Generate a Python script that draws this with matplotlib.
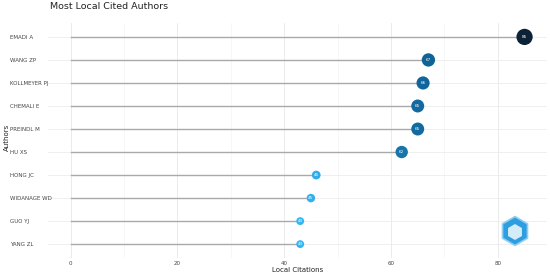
import matplotlib
matplotlib.use("Agg")
import matplotlib.pyplot as plt
from matplotlib.colors import LinearSegmentedColormap, Normalize
from matplotlib.patches import RegularPolygon

# data
authors = ["EMADI A", "WANG ZP", "KOLLMEYER PJ", "CHEMALI E", "PREINDL M",
           "HU XS", "HONG JC", "WIDANAGE WD", "GUO YJ", "YANG ZL"]
citations = [85, 67, 66, 65, 65, 62, 46, 45, 43, 43]
xticks = [0, 20, 40, 60, 80]

cmap = LinearSegmentedColormap.from_list(
    "cites", [(0, "#34b6f6"), (0.6, "#0d5f94"), (1, "#0c2237")])
norm = Normalize(min(citations), max(citations))

fig = plt.figure(figsize=(5.5, 2.75), dpi=100)
ax = fig.add_axes([0.087, 0.062, 0.908, 0.854])

ypos = list(range(len(authors)))[::-1]

# grid
for v in range(10, 90, 20):
    ax.axvline(v, color="#f4f4f4", lw=0.5, zorder=0)
for v in xticks:
    ax.axvline(v, color="#e8e8e8", lw=0.6, zorder=0)
for y in ypos:
    ax.axhline(y, color="#ececec", lw=0.6, zorder=0)

# lollipops
for y, c in zip(ypos, citations):
    ax.plot([0, c], [y, y], color="#a9a9a9", lw=1.0, zorder=1)
sizes = [32 + (c - 43) / 42 * 105 for c in citations]
ax.scatter(citations, ypos, s=sizes, c=citations, cmap=cmap, norm=norm,
           zorder=2, edgecolors="none")
for y, c in zip(ypos, citations):
    ax.text(c, y, str(c), color="white", fontsize=3, ha="center",
            va="center", zorder=3)

ax.set_xlim(-4.25, 89.25)
ax.set_ylim(-0.6, len(authors) - 0.4)
ax.set_xticks(xticks)
ax.set_xticklabels([str(v) for v in xticks], fontsize=4, color="#444444")
ax.set_yticks(ypos)
ax.set_yticklabels(authors, fontsize=4, color="#444444", ha="left")
ax.tick_params(axis="y", length=0, pad=27.5)
ax.tick_params(axis="x", length=0, pad=2)
for s in ax.spines.values():
    s.set_visible(False)

ax.set_xlabel("Local Citations", fontsize=5, color="#222222", labelpad=1)
fig.text(0.012, 0.5, "Authors", rotation=90, fontsize=5, color="#222222",
         ha="center", va="center")
fig.text(0.091, 0.975, "Most Local Cited Authors", fontsize=6.8,
         color="#222222", ha="left", va="center")

# small hexagon logo
lax = fig.add_axes([495 / 550, 1 - 251 / 275, 40 / 550, 40 / 275])
lax.set_aspect("equal")
lax.set_xlim(-1, 1)
lax.set_ylim(-1, 1)
lax.axis("off")
lax.add_patch(RegularPolygon((0, 0), numVertices=6, radius=0.72,
                             orientation=0, facecolor="#2f9ee0",
                             edgecolor="#8fcdf3", lw=1.2))
lax.add_patch(RegularPolygon((0, -0.05), numVertices=6, radius=0.4,
                             orientation=0, facecolor="white",
                             edgecolor="none", alpha=0.8))

fig.savefig("out.png", dpi=100)
